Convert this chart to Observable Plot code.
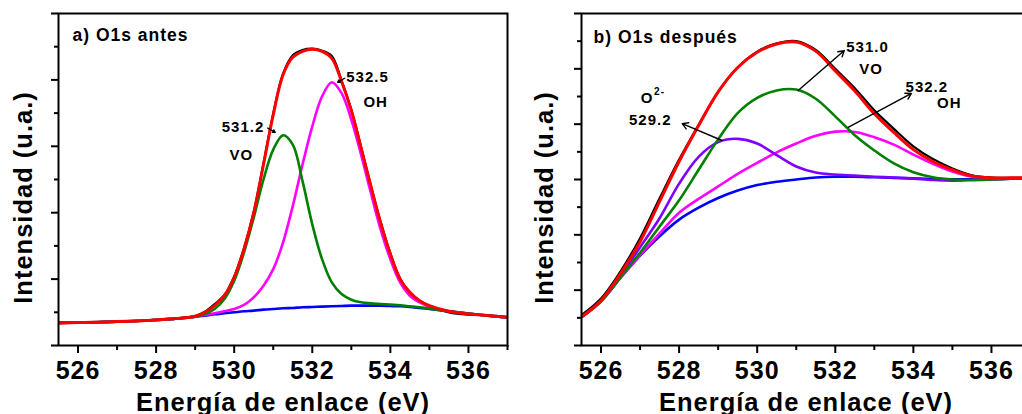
<!DOCTYPE html>
<html><head><meta charset="utf-8">
<script src="https://cdn.jsdelivr.net/npm/d3@7"></script>
<script src="https://cdn.jsdelivr.net/npm/@observablehq/plot@0.6"></script>
<style>
html,body{margin:0;padding:0;background:#fff;overflow:hidden;}
#wrap{position:relative;width:1022px;height:414px;overflow:hidden;background:#fff;}
#wrap svg{position:absolute;top:0;}
</style></head><body><div id="wrap"></div>
<script>
// ---- Panel a) O1s antes ----
const energyA = [525.5,526,526.5,527,527.5,528,528.5,529,529.25,529.5,529.75,530,530.25,530.5,530.75,531,531.25,531.5,531.75,532,532.25,532.5,532.75,533,533.25,533.5,533.75,534,534.25,534.5,534.75,535,535.5,536,536.5,537];
const dataA    = [0.70,0.70,0.71,0.73,0.74,0.78,0.80,0.89,1.02,1.25,1.52,2.08,2.93,4.02,5.48,6.98,8.18,8.74,8.90,8.94,8.88,8.72,7.98,7.10,5.98,4.82,3.72,2.78,2.02,1.58,1.34,1.18,1.00,0.93,0.91,0.86];
const baseA    = [0.68,0.69,0.70,0.72,0.74,0.77,0.81,0.87,0.90,0.94,0.97,1.00,1.03,1.05,1.08,1.10,1.12,1.13,1.15,1.16,1.17,1.18,1.19,1.20,1.20,1.20,1.20,1.19,1.18,1.16,1.13,1.10,1.03,0.96,0.90,0.84];
const ohA      = [0.68,0.69,0.70,0.72,0.74,0.77,0.81,0.87,0.92,0.97,1.03,1.10,1.22,1.45,1.80,2.30,3.10,4.20,5.45,6.60,7.50,7.93,7.60,6.80,5.75,4.60,3.50,2.60,1.90,1.50,1.30,1.17,1.03,0.96,0.90,0.84];
const voA      = [0.68,0.69,0.70,0.72,0.74,0.77,0.81,0.87,0.95,1.10,1.40,1.95,2.80,3.85,5.00,5.90,6.33,6.05,4.95,3.65,2.60,1.90,1.55,1.38,1.30,1.27,1.25,1.23,1.21,1.18,1.15,1.11,1.03,0.96,0.90,0.84];
const fitA     = [0.68,0.69,0.70,0.72,0.74,0.77,0.81,0.88,1.00,1.20,1.50,2.05,2.90,4.00,5.45,6.95,8.15,8.68,8.86,8.92,8.86,8.65,7.95,7.08,5.95,4.80,3.70,2.75,2.00,1.60,1.35,1.20,1.03,0.95,0.90,0.85];

// ---- Panel b) O1s después ----
const energyB = [525.5,526,526.5,527,527.5,528,528.5,529,529.5,530,530.5,531,531.5,532,532.5,533,533.5,534,534.5,535,535.5,536,536.5,537];
const dataB   = [1.10,1.70,2.68,3.88,5.32,6.72,7.98,9.17,10.05,10.62,10.92,11.00,10.68,10.00,9.30,8.50,7.83,7.20,6.74,6.40,6.15,6.07,6.06,6.06];
const baseB   = [1.03,1.60,2.45,3.25,3.95,4.55,4.98,5.33,5.60,5.80,5.92,6.00,6.07,6.10,6.10,6.08,6.06,6.04,6.02,6.01,6.01,6.02,6.04,6.05];
const ohB     = [1.03,1.60,2.45,3.27,4.05,4.80,5.30,5.75,6.20,6.60,6.98,7.30,7.58,7.73,7.72,7.53,7.26,6.90,6.57,6.29,6.10,6.04,6.04,6.05];
const o2B     = [1.03,1.62,2.50,3.55,4.60,5.85,6.82,7.35,7.47,7.30,6.88,6.47,6.25,6.18,6.14,6.10,6.07,6.03,5.98,5.96,5.98,6.00,6.03,6.05];
const voB     = [1.03,1.60,2.47,3.35,4.30,5.25,6.35,7.45,8.40,8.95,9.22,9.25,8.92,8.28,7.60,7.05,6.58,6.26,6.08,6.00,5.98,6.00,6.03,6.05];
const fitB    = [1.03,1.63,2.60,3.75,5.20,6.65,7.95,9.17,10.05,10.60,10.90,10.97,10.64,9.92,9.20,8.38,7.70,7.08,6.65,6.35,6.13,6.06,6.06,6.06];

// ---- Ticks and labels ----
const majorX = [526,528,530,532,534,536];
const minorX = [527,529,531,533,535,537];
const majorYA = [0,2,4,6,8,10], minorYA = [1,3,5,7,9];
const majorYB = [0,2,4,6,8,10,12], minorYB = [1,3,5,7,9,11];
const xTitle = "Energía de enlace (eV)";
const yTitle = "Intensidad (u.a.)";
const titleA = "a) O1s antes";
const titleB = "b) O1s después";

// annotations (data coordinates)
const labelsA = [
  {t:"531.2", x:530.77, y:6.57, a:"end"},
  {t:"VO",    x:530.18, y:5.72, a:"middle"},
  {t:"532.5", x:532.87, y:8.07, a:"start"},
  {t:"OH",    x:533.31, y:7.32, a:"start"}
];
const arrowsA = [
  {x1:530.86, y1:6.55, x2:531.05, y2:6.42},
  {x1:532.83, y1:8.05, x2:532.65, y2:7.93}
];
const labelsB = [
  {t:"O",     x:527.18, y:8.93, a:"middle"},
  {t:"529.2", x:527.26, y:8.13, a:"middle"},
  {t:"531.0", x:532.28, y:10.78, a:"start"},
  {t:"VO",    x:532.92, y:10.0, a:"middle"},
  {t:"532.2", x:533.80, y:9.34, a:"start"},
  {t:"OH",    x:534.92, y:8.75, a:"middle"}
];
const supB = [{t:"2-", x:527.36, y:9.16}];
const arrowsB = [
  {x1:529.10, y1:7.41, x2:528.08, y2:8.02},
  {x1:531.05, y1:9.22, x2:532.23, y2:10.66},
  {x1:532.33, y1:7.88, x2:533.95, y2:9.11}
];

const FONT = "'Liberation Sans', Arial, Helvetica, sans-serif";
function rows(xs, ys){ return xs.map((x,i)=>({x, y:ys[i]})); }

function panel(o){
  const line = (ys, color, w) => Plot.line(rows(o.xs, ys), {x:"x", y:"y", stroke:color, strokeWidth:w, curve:"catmull-rom", clip:true});
  const marks = [
    line(o.data, "#000000", 2.2),
    line(o.base, "#0000ff", 2.6),
    line(o.oh, "#ff00ff", 2.6)
  ];
  if (o.o2) marks.push(line(o.o2, "#8000ff", 2.6));
  marks.push(line(o.vo, "#008000", 2.6));
  marks.push(line(o.fit, "#ff0000", 3));
  marks.push(
    Plot.frame({stroke:"#000", strokeWidth:2}),
    Plot.axisX({ticks: majorX, tickSize: 8, tickPadding: 8, fontSize: 25, fontWeight: "bold", strokeWidth: 2, label: null, tickFormat: d => String(d)}),
    Plot.axisX({ticks: minorX, tickSize: 5, text: null, strokeWidth: 2, label: null}),
    Plot.axisY({ticks: o.majorY, tickSize: 7, text: null, strokeWidth: 2, label: null}),
    Plot.axisY({ticks: o.minorY, tickSize: 4, text: null, strokeWidth: 2, label: null}),
    Plot.text([xTitle], {frameAnchor: "bottom", dy: 65, textAnchor: "middle", lineAnchor: "bottom", fontSize: 25.5, fontWeight: "bold", fill: "#000"}),
    Plot.text([yTitle], {frameAnchor: "left", rotate: -90, textAnchor: "middle", lineAnchor: "middle", dx: o.ydx, dy: 18, fontSize: 25.5, fontWeight: "bold", fill: "#000"}),
    Plot.text([o.title], {frameAnchor: "top-left", dx: o.tdx, dy: o.tdy, textAnchor: "start", lineAnchor: "middle", fontSize: 17.5, fontWeight: "bold", fill: "#000"}),
    Plot.arrow(o.arrows, {x1:"x1", y1:"y1", x2:"x2", y2:"y2", stroke:"#000", strokeWidth:1.4, headLength: o.head})
  );
  for (const anchor of ["start", "middle", "end"]) {
    const subset = o.labels.filter(d => d.a === anchor);
    if (subset.length) marks.push(Plot.text(subset, {x:"x", y:"y", text:"t", textAnchor: anchor, fontSize: 15, fontWeight: "bold", fill: "#000"}));
  }
  if (o.sup) marks.push(Plot.text(o.sup, {x:"x", y:"y", text:"t", textAnchor:"start", fontSize: 10, fontWeight:"bold", fill:"#000"}));
  return Plot.plot({
    width: o.width, height: 414,
    marginLeft: o.ml, marginRight: 4, marginTop: 13, marginBottom: 69,
    x: {domain: [525.5, 537]},
    y: {domain: [0, o.ymax]},
    style: {fontFamily: FONT, fontWeight: "bold", background: "transparent", overflow: "visible", color: "#000", letterSpacing: "1px"},
    marks
  });
}

const wrap = document.getElementById("wrap");
const a = panel({xs: energyA, data: dataA, base: baseA, oh: ohA, vo: voA, fit: fitA, ymax: 10,
  majorY: majorYA, minorY: minorYA, width: 511, ml: 58, ydx: -35, title: titleA, tdx: 14, tdy: 22,
  arrows: arrowsA, labels: labelsA, head: 4});
a.style.left = "0px";
const b = panel({xs: energyB, data: dataB, base: baseB, oh: ohB, o2: o2B, vo: voB, fit: fitB, ymax: 12,
  majorY: majorYB, minorY: minorYB, width: 523, ml: 70, ydx: -37, title: titleB, tdx: 12, tdy: 24,
  arrows: arrowsB, labels: labelsB, sup: supB, head: 7});
b.style.left = "511px";
wrap.appendChild(a);
wrap.appendChild(b);
</script>
</body></html>
